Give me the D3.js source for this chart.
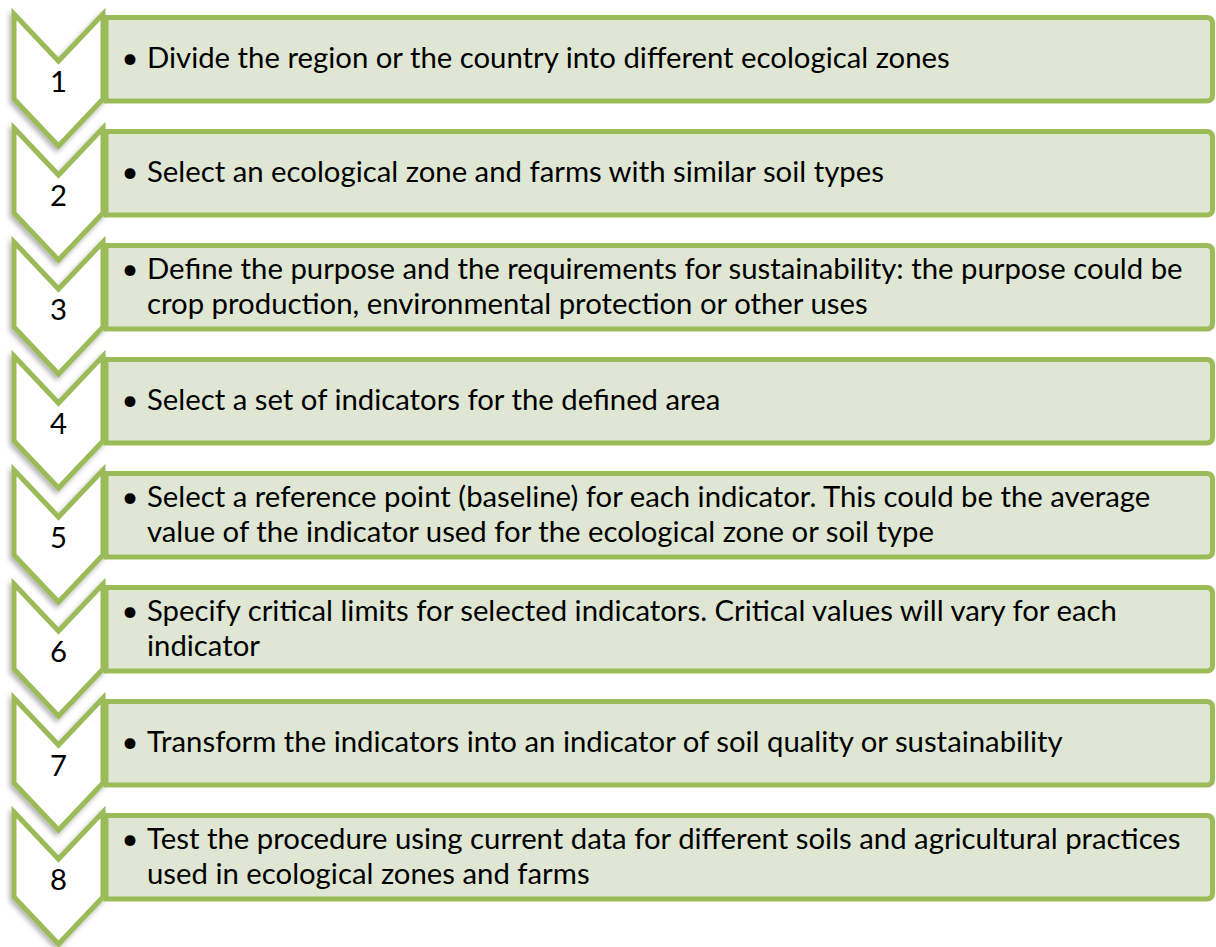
<!DOCTYPE html>
<meta charset="utf-8">
<style>
  body { margin: 0; background: #fff; }
  .box { fill: #dfe7d4; stroke: #9bbb59; stroke-width: 5px; }
  .chev { fill: #fff; stroke: #9bbb59; stroke-width: 5px; stroke-linejoin: miter; }
  text { font-family: Lato, "Open Sans", sans-serif; fill: #000; }
</style>
<body>
<script src="https://cdn.jsdelivr.net/npm/d3@7"></script>
<script>

// step numbers and the text of each step (line breaks as in the figure)
var steps = ["1", "2", "3", "4", "5", "6", "7", "8"];
var stepLines = [
  ["Divide the region or the country into different ecological zones"],
  ["Select an ecological zone and farms with similar soil types"],
  ["Define the purpose and the requirements for sustainability: the purpose could be",
   "crop production, environmental protection or other uses"],
  ["Select a set of indicators for the defined area"],
  ["Select a reference point (baseline) for each indicator. This could be the average",
   "value of the indicator used for the ecological zone or soil type"],
  ["Specify critical limits for selected indicators. Critical values will vary for each",
   "indicator"],
  ["Transform the indicators into an indicator of soil quality or sustainability"],
  ["Test the procedure using current data for different soils and agricultural practices",
   "used in ecological zones and farms"]
];

var width = 1216, height = 947;

// layout
var chevW = 89, chevH = 132, notch = 47,
    boxX = 106, boxR = 1212.5, boxH = 83.5, radius = 6,
    textX = 147, bulletX = 130, lineH = 35;

var y = d3.scaleBand()
    .domain(steps)
    .range([14, 14 + 114 * steps.length])
    .paddingInner(0);

var svg = d3.select("body").append("svg")
    .attr("width", width)
    .attr("height", height);

var defs = svg.append("defs");
var f = defs.append("filter").attr("id", "shadow")
    .attr("x", "-30%").attr("y", "-30%").attr("width", "160%").attr("height", "160%");
f.append("feDropShadow")
    .attr("dx", -2).attr("dy", 3).attr("stdDeviation", 2.5)
    .attr("flood-color", "#000").attr("flood-opacity", 0.3);

// chevron outline in local coords
function chevron() {
  var l = 14, r = l + chevW, c = (l + r) / 2;
  return "M" + l + ",0 L" + c + "," + notch + " L" + r + ",0 L" + r + "," + (chevH - notch) +
    " L" + c + "," + chevH + " L" + l + "," + (chevH - notch) + " Z";
}

// box with rounded right corners
function box() {
  var l = boxX, r = boxR, t = 3.5, b = t + boxH, k = radius;
  return "M" + l + "," + t + " L" + (r - k) + "," + t + " Q" + r + "," + t + " " + r + "," + (t + k) +
    " L" + r + "," + (b - k) + " Q" + r + "," + b + " " + (r - k) + "," + b +
    " L" + l + "," + b + " Z";
}

var item = svg.selectAll(".item")
    .data(steps)
  .enter().append("g")
    .attr("class", "item")
    .attr("transform", function(d) { return "translate(0," + y(d) + ")"; });

item.append("path")
    .attr("class", "chev")
    .attr("filter", "url(#shadow)")
    .attr("d", chevron());

item.append("path")
    .attr("class", "box")
    .attr("d", box());

// fit the font so the longest line spans the box like the original
var probe = svg.append("text").style("font-size", "28px").text(stepLines[2][0]);
var fs = 28 * (1036 / probe.node().getComputedTextLength());
probe.remove();

item.append("text")
    .attr("x", 14 + chevW / 2)
    .attr("y", 78)
    .attr("text-anchor", "middle")
    .style("font-size", fs + "px")
    .text(function(d) { return d; });

var cy = 3.5 + boxH / 2 + 9;

item.each(function(d, i) {
  var g = d3.select(this);
  var lines = stepLines[i];
  var y0 = cy - (lines.length - 1) / 2 * lineH;
  g.append("text")
      .attr("x", bulletX)
      .attr("y", y0)
      .attr("text-anchor", "middle")
      .style("font-size", fs + "px")
      .text("\u2022");
  g.selectAll(".line")
      .data(lines)
    .enter().append("text")
      .attr("class", "line")
      .attr("x", textX)
      .attr("y", function(l, j) { return y0 + j * lineH; })
      .style("font-size", fs + "px")
      .text(function(l) { return l; });
});

</script>
</body>
